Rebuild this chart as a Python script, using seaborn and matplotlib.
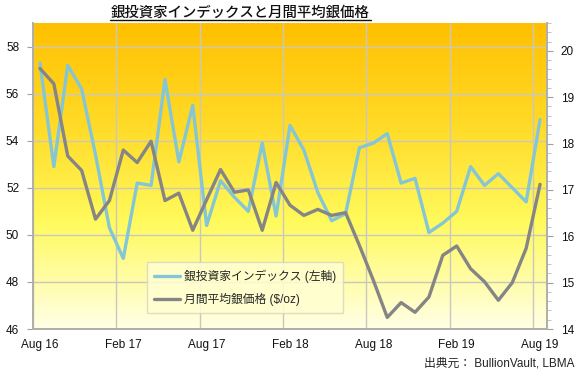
import numpy as np
import pandas as pd
import matplotlib
matplotlib.use('Agg')
import matplotlib.pyplot as plt
import seaborn as sns
from matplotlib.colors import LinearSegmentedColormap
from matplotlib.lines import Line2D

sns.set_style('white')
plt.rcParams['font.family'] = ['Liberation Sans', 'Noto Sans CJK JP']

# monthly data, Aug 2016 .. Aug 2019
index_vals = [57.3, 52.9, 57.2, 56.2, 53.4, 50.3, 49.0, 52.2, 52.1, 56.6,
              53.1, 55.5, 50.4, 52.3, 51.6, 51.0, 53.9, 50.8, 54.65, 53.6,
              51.8, 50.6, 50.9, 53.7, 53.9, 54.3, 52.2, 52.4, 50.1, 50.5,
              51.0, 52.9, 52.1, 52.6, 52.0, 51.4, 54.9]
silver_vals = [19.62, 19.29, 17.73, 17.42, 16.37, 16.77, 17.86, 17.59, 18.05, 16.77,
               16.93, 16.13, 16.79, 17.44, 16.95, 17.00, 16.13, 17.16, 16.67, 16.45,
               16.58, 16.45, 16.51, 15.80, 15.05, 14.25, 14.57, 14.36, 14.69, 15.59,
               15.79, 15.30, 15.02, 14.62, 15.00, 15.74, 17.12]
tick_labels = ['Aug 16', 'Feb 17', 'Aug 17', 'Feb 18', 'Aug 18', 'Feb 19', 'Aug 19']
label_index = '銀投資家インデックス (左軸)'
label_silver = '月間平均銀価格 ($/oz)'

df = pd.DataFrame({'pos': np.arange(len(index_vals)),
                   'index': index_vals, 'silver': silver_vals})

blue = '#84C6D6'
grey = '#858585'

fig = plt.figure(figsize=(5.78, 3.73), dpi=100)
ax = fig.add_axes([33/578, 44/373, 514/578, 306/373])

# gradient background
cmap = LinearSegmentedColormap.from_list('bg', [(0, '#FFC000'), (0.35, '#FFDC2A'),
                                                (0.65, '#FFFA5C'), (1.0, '#FFFFE6')])
grad = np.linspace(0, 1, 256).reshape(-1, 1)
ax.imshow(grad, extent=[-0.5, 36.5, 46, 59], aspect='auto', cmap=cmap,
          origin='upper', zorder=0)

sns.lineplot(data=df, x='pos', y='index', ax=ax, color=blue, linewidth=2.4,
             label=label_index, legend=False)
ax.set_xlim(-0.5, 36.5)
ax.set_ylim(46, 59)
ax.set_yticks(np.arange(46, 59, 2))
ax.set_xticks(np.arange(0, 37, 6))
ax.set_xticklabels(tick_labels)
ax.set_xticks(np.arange(-0.5, 37, 6), minor=True)
ax.set_xlabel('')
ax.set_ylabel('')
ax.set_axisbelow(True)
ax.grid(axis='y', which='major', color='#C8C8C0', linewidth=1)
ax.grid(axis='x', which='minor', color='#C8C8C0', linewidth=1)
ax.tick_params(axis='x', which='major', length=0, pad=7, labelsize=8.5, labelcolor='#111111')
ax.tick_params(axis='x', which='minor', length=4, color='#A0A0A0', direction='out')
ax.tick_params(axis='y', length=4, color='#A0A0A0', direction='out', pad=6,
               labelsize=8.5, labelcolor='#111111')

ax2 = ax.twinx()
sns.lineplot(data=df, x='pos', y='silver', ax=ax2, color=grey, linewidth=2.4,
             label=label_silver, legend=False)
ax2.set_ylim(14, 20.5)
ax2.set_yticks(np.arange(14, 20.5, 1))
ax2.set_yticks(np.arange(14, 20.6, 0.2), minor=True)
ax2.set_ylabel('')
ax2.tick_params(axis='y', which='major', length=4, color='#A0A0A0', direction='out',
                pad=6, labelsize=8.5, labelcolor='#111111')
ax2.tick_params(axis='y', which='minor', length=3, color='#B8B8B8', direction='out')
ax2.set_xlim(-0.5, 36.5)

for a in (ax, ax2):
    a.spines['top'].set_visible(False)
    for s in ('left', 'right', 'bottom'):
        a.spines[s].set_color('#B0B0A8')
        a.spines[s].set_linewidth(1.3)

handles = [Line2D([], [], color=blue, linewidth=2.4),
           Line2D([], [], color=grey, linewidth=2.4)]
leg = ax2.legend(handles, [label_index, label_silver], loc='lower left',
                 bbox_to_anchor=(0.222, 0.052), fontsize=8.5, frameon=True,
                 fancybox=False, facecolor='#FFFFD2', edgecolor='#D8D8C0',
                 framealpha=0.85, handlelength=2.2, labelspacing=0.85,
                 borderpad=0.6, handletextpad=0.3, borderaxespad=0)
leg.get_frame().set_linewidth(1)

# title with underline
fig.text(240.5/578, 1 - 16.5/373, '銀投資家インデックスと月間平均銀価格',
         ha='center', va='baseline', fontsize=10.4, color='#111111',
         family=['Noto Sans CJK JP'], weight='medium')
fig.add_artist(Line2D([110/578, 371/578], [1 - 19.5/373, 1 - 19.5/373],
                      color='#111111', linewidth=1, transform=fig.transFigure))

fig.text(575/578, 1 - 367/373, '出典元： BullionVault, LBMA', ha='right',
         va='baseline', fontsize=8.5, color='#222222')

fig.savefig('out.png', dpi=100)
